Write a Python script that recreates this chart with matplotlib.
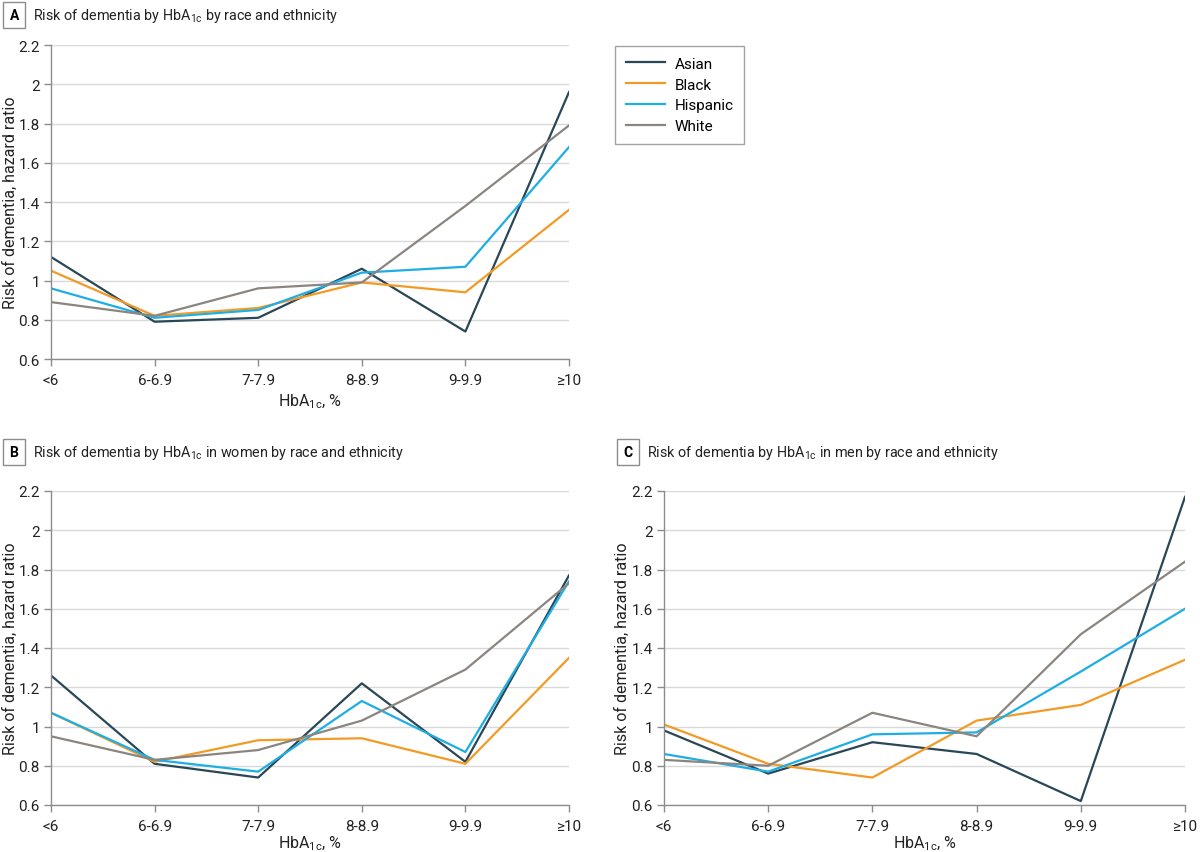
import matplotlib
matplotlib.use('Agg')
import matplotlib.pyplot as plt

plt.rcParams['font.family'] = ['Roboto', 'DejaVu Sans']
plt.rcParams['mathtext.fontset'] = 'custom'
plt.rcParams['mathtext.rm'] = 'Roboto'
plt.rcParams['mathtext.default'] = 'regular'

# Categories and series
categories = ['<6', '6-6.9', '7-7.9', '8-8.9', '9-9.9', '≥10']
groups = ['Asian', 'Black', 'Hispanic', 'White']
colors = {'Asian': '#294756', 'Black': '#f39a25', 'Hispanic': '#1eaee3', 'White': '#8b8580'}

# Panel A: all
a_asian = [1.12, 0.79, 0.81, 1.06, 0.74, 1.96]
a_black = [1.05, 0.82, 0.86, 0.99, 0.94, 1.36]
a_hispanic = [0.96, 0.81, 0.85, 1.04, 1.07, 1.68]
a_white = [0.89, 0.82, 0.96, 0.99, 1.38, 1.79]

# Panel B: women
b_asian = [1.26, 0.81, 0.74, 1.22, 0.82, 1.77]
b_black = [1.07, 0.82, 0.93, 0.94, 0.81, 1.35]
b_hispanic = [1.07, 0.83, 0.77, 1.13, 0.87, 1.74]
b_white = [0.95, 0.83, 0.88, 1.03, 1.29, 1.73]

# Panel C: men
c_asian = [0.98, 0.76, 0.92, 0.86, 0.62, 2.17]
c_black = [1.01, 0.81, 0.74, 1.03, 1.11, 1.34]
c_hispanic = [0.86, 0.77, 0.96, 0.97, 1.28, 1.60]
c_white = [0.83, 0.80, 1.07, 0.95, 1.47, 1.84]

yticks = [0.6, 0.8, 1.0, 1.2, 1.4, 1.6, 1.8, 2.0, 2.2]
ytick_labels = ['0.6', '0.8', '1', '1.2', '1.4', '1.6', '1.8', '2', '2.2']

fig = plt.figure(figsize=(12, 8.53), dpi=100)

W, H = 1200, 853


def make_axes(x0, x1, y_top, y_bot):
    return fig.add_axes([x0 / W, 1 - y_bot / H, (x1 - x0) / W, (y_bot - y_top) / H])


def style(ax, data, ylab_x, xlab_y):
    x = range(len(categories))
    for g in groups:
        ax.plot(x, data[g], color=colors[g], lw=1.6, label=g)
    ax.set_xlim(0, len(categories) - 1)
    ax.set_ylim(0.6, 2.2)
    ax.set_yticks(yticks)
    ax.set_yticklabels(ytick_labels)
    ax.set_xticks(list(x))
    ax.set_xticklabels(categories)
    ax.yaxis.grid(True, color='#d9d9d9', lw=1)
    ax.set_axisbelow(True)
    for s in ['top', 'right']:
        ax.spines[s].set_visible(False)
    for s in ['left', 'bottom']:
        ax.spines[s].set_color('#8c8c8c')
        ax.spines[s].set_linewidth(1)
    ax.tick_params(axis='both', colors='#8c8c8c', labelcolor='#222222', labelsize=11, length=5, width=1)
    ax.tick_params(axis='x', pad=5)
    ax.tick_params(axis='y', pad=3)
    ax.set_xlabel('HbA$_{1c}$, %', fontsize=11.5, color='#222222')
    ax.set_ylabel('Risk of dementia, hazard ratio', fontsize=11.5, color='#222222')
    ax.yaxis.set_label_coords(ylab_x, 0.5)
    ax.xaxis.set_label_coords(0.5, xlab_y)


def panel_title(xbox, y, letter, text):
    fig.text(xbox / W, 1 - y / H, letter, fontsize=10, fontweight='bold', va='center', ha='left',
             bbox=dict(boxstyle='square,pad=0.45', fc='white', ec='#8c8c8c', lw=1))
    fig.text((xbox + 23.5) / W, 1 - y / H, text, fontsize=10.4, va='center', ha='left', color='#222222')


axA = make_axes(51, 569, 46, 360)
style(axA, {'Asian': a_asian, 'Black': a_black, 'Hispanic': a_hispanic, 'White': a_white},
      -0.064, -0.105)
axB = make_axes(51, 569, 492, 806)
style(axB, {'Asian': b_asian, 'Black': b_black, 'Hispanic': b_hispanic, 'White': b_white},
      -0.064, -0.09)
axC = make_axes(664, 1185, 492, 806)
style(axC, {'Asian': c_asian, 'Black': c_black, 'Hispanic': c_hispanic, 'White': c_white},
      -0.066, -0.09)

panel_title(9.5, 16, 'A', 'Risk of dementia by HbA$_{1c}$ by race and ethnicity')
panel_title(9.5, 453, 'B', 'Risk of dementia by HbA$_{1c}$ in women by race and ethnicity')
panel_title(623.5, 453, 'C', 'Risk of dementia by HbA$_{1c}$ in men by race and ethnicity')

handles, labels = axA.get_legend_handles_labels()
leg = fig.legend(handles, labels, loc='upper left', bbox_to_anchor=(615 / W, 1 - 47 / H),
                 borderaxespad=0, frameon=True, fancybox=False, edgecolor='#8c8c8c', fontsize=11,
                 handlelength=2.6, borderpad=0.7, labelspacing=0.45, handletextpad=0.6)
leg.get_frame().set_linewidth(1)

fig.savefig('out.png', dpi=100)
